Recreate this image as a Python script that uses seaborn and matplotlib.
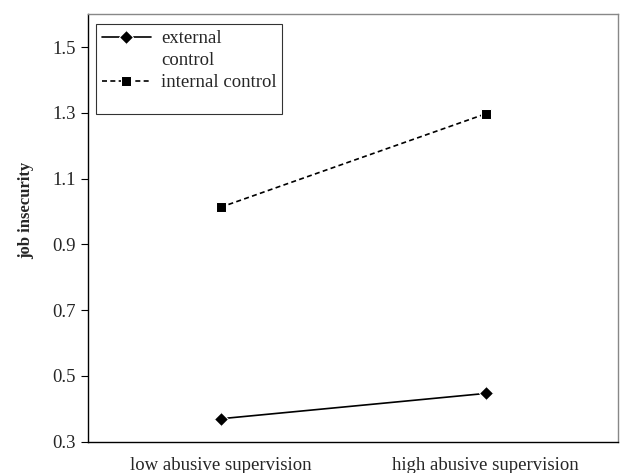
import matplotlib
matplotlib.use("Agg")
import matplotlib.pyplot as plt
from matplotlib.lines import Line2D
import seaborn as sns
import pandas as pd

categories = ["low abusive supervision", "high abusive supervision"]
external_control = [0.37, 0.447]
internal_control = [1.013, 1.297]
series_names = ["external control", "internal control"]
yticks = [0.3, 0.5, 0.7, 0.9, 1.1, 1.3, 1.5]

sns.set_theme(style="white")
plt.rcParams["font.family"] = ["Liberation Serif", "DejaVu Serif"]

df = pd.DataFrame({
    "x": categories * 2,
    "y": external_control + internal_control,
    "series": [series_names[0]] * 2 + [series_names[1]] * 2,
})

fig = plt.figure(figsize=(6.2, 4.73), dpi=100)
ax = fig.add_axes([0.142, 0.066, 0.855, 0.904])

sns.lineplot(data=df, x="x", y="y", hue="series", style="series",
             palette={series_names[0]: "black", series_names[1]: "black"},
             dashes={series_names[0]: "", series_names[1]: (3, 2)},
             markers={series_names[0]: "D", series_names[1]: "s"},
             markersize=7.5, linewidth=1.2, ax=ax, sort=False)

FS = 13.5
ax.set_xlim(-0.5, 1.5)
ax.set_ylim(0.3, 1.6)
ax.set_yticks(yticks)
ax.set_yticklabels([f"{v:.1f}" for v in yticks], fontsize=FS)
ax.set_xticks([0, 1])
ax.set_xticklabels(categories, fontsize=FS)
ax.set_xticks([-0.5, 0.5, 1.5], minor=True)
ax.tick_params(axis="x", which="major", length=0, pad=11)
ax.tick_params(axis="x", which="minor", length=5, width=0.8, color="black", direction="out")
ax.tick_params(axis="y", which="major", length=5, width=0.8, color="black", direction="out", left=True, pad=4)
ax.set_xlabel("")
ax.set_ylabel("job insecurity", fontsize=12, fontweight="bold")
ax.yaxis.set_label_coords(-0.102, 0.542)

for side in ["top", "right"]:
    ax.spines[side].set_color("#888888")
    ax.spines[side].set_linewidth(1.0)
for side in ["left", "bottom"]:
    ax.spines[side].set_color("black")
    ax.spines[side].set_linewidth(1.0)

handles, labels = ax.get_legend_handles_labels()
ax.get_legend().remove()
blank = Line2D([], [], linestyle="none", marker=None)
h = {lab: hd for hd, lab in zip(handles, labels)}
leg = ax.legend([h[series_names[0]], blank, h[series_names[1]], blank],
                ["external", "control", "internal control", ""],
                loc="upper left", bbox_to_anchor=(0.0155, 0.977), fontsize=FS,
                frameon=True, fancybox=False, edgecolor="black", handlelength=2.6,
                handleheight=0.4, handletextpad=0.55, borderpad=0.3,
                labelspacing=0.27, borderaxespad=0.0)
leg.get_texts()[3].set_fontsize(4)
leg.get_frame().set_linewidth(0.8)

fig.savefig("out.png", dpi=100)
